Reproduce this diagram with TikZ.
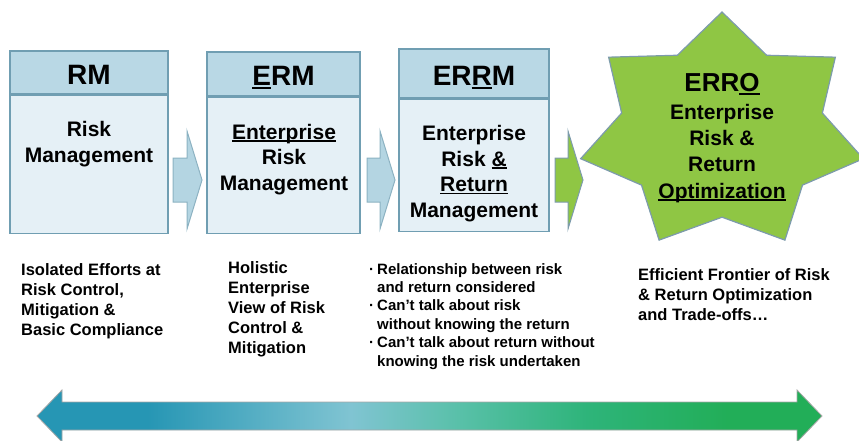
\documentclass[tikz,border=0pt]{standalone}
\usepackage{fontspec}
\setmainfont{Liberation Sans}
\usetikzlibrary{positioning}
\definecolor{hdrblue}{RGB}{185,216,229}
\definecolor{bodyblue}{RGB}{229,240,246}
\definecolor{boxline}{RGB}{112,158,178}
\definecolor{arrowblue}{RGB}{180,213,226}
\definecolor{arrowline}{RGB}{140,178,194}
\definecolor{leafgreen}{RGB}{143,198,68}
\definecolor{starline}{RGB}{125,155,172}
\definecolor{tealdark}{RGB}{38,150,180}
\definecolor{tealpale}{RGB}{128,196,210}
\definecolor{tealgreen}{RGB}{88,192,168}
\definecolor{midgreen}{RGB}{46,180,122}
\definecolor{deepgreen}{RGB}{34,174,88}
\pgfdeclarehorizontalshading{riskreturn}{100bp}{color(0bp)=(tealdark); color(32bp)=(tealdark); color(45bp)=(tealpale); color(52bp)=(tealgreen); color(60bp)=(midgreen); color(69bp)=(deepgreen); color(100bp)=(deepgreen)}
\newsavebox{\ulbox}
\newcommand{\uln}[1]{\sbox{\ulbox}{#1}\rlap{\rule[-0.12em]{\wd\ulbox}{0.07em}}\usebox{\ulbox}}

\begin{document}
\begin{tikzpicture}[x=1pt,y=-1pt,
  hdr/.style={draw=boxline, fill=hdrblue, line width=1.2pt, inner sep=2pt,
    text height=23.5pt, text depth=0pt, font=\bfseries\fontsize{28}{30}\selectfont},
  bodybox/.style={draw=boxline, fill=bodyblue, line width=1.2pt},
  bodytext/.style={align=center, anchor=base, inner sep=0pt,
    font=\bfseries\fontsize{21}{25.5}\selectfont},
  steparrow/.style={draw=arrowline, fill=arrowblue, line width=1pt},
  greenarrow/.style={draw=starline, fill=leafgreen, line width=1pt},
  starshape/.style={draw=starline, fill=leafgreen, line width=1.2pt},
  note/.style={align=left, anchor=base west, inner sep=0pt,
    font=\bfseries\fontsize{16.5}{20}\selectfont},
  bullets/.style={align=left, anchor=base west, inner sep=0pt,
    font=\bfseries\fontsize{15}{18.4}\selectfont}]
  \useasboundingbox (0,0) rectangle (859,441);

  % stage boxes (text nodes sit on their last baseline)
  \node[hdr, minimum width=158, minimum height=43] (rmH) at (89,72.5) {RM};
  \node[bodybox, minimum width=158, minimum height=138, below=0pt of rmH] (rmB) {};
  \node[bodytext] (rmT) at (89,162) {Risk\\Management};

  \node[hdr, minimum width=153, minimum height=44] (ermH) at (283.5,74) {\uln{E}RM};
  \node[bodybox, minimum width=153, minimum height=136, below=0pt of ermH] (ermB) {};
  \node[bodytext] (ermT) at (284,190) {\uln{Enterprise}\\Risk\\Management};

  \node[hdr, minimum width=150, minimum height=49] (errmH) at (474,73.5) {ER\uln{R}M};
  \node[bodybox, minimum width=150, minimum height=132, below=0pt of errmH] (errmB) {};
  \node[bodytext] (errmT) at (474,217) {Enterprise\\Risk \uln{\&}\\\uln{Return}\\Management};

  % block arrows
  \coordinate (a1) at (173,180);
  \coordinate (a2) at (367,180);
  \coordinate (a3) at (555,180);
  \draw[steparrow] (a1) ++(0,-22) -- ++(14,0) -- ++(0,-27) -- ++(15,49)
    -- ++(-15,49) -- ++(0,-27) -- ++(-14,0) -- cycle;
  \draw[steparrow] (a2) ++(0,-22) -- ++(13,0) -- ++(0,-27) -- ++(15,49)
    -- ++(-15,49) -- ++(0,-27) -- ++(-13,0) -- cycle;
  \draw[greenarrow] (a3) ++(0,-22) -- ++(13,0) -- ++(0,-27) -- ++(15,49)
    -- ++(-15,49) -- ++(0,-27) -- ++(-13,0) -- cycle;

  % ERRO star
  \begin{scope}[shift={(722,132)}]
    \coordinate (erroC) at (0,0);
    \draw[starshape] (-90:145 and 120)
      \foreach \i [evaluate=\i as \rr using {mod(\i,2)==0 ? 1 : 0.71}] in {1,...,13}
        { -- ({-90+\i*360/14}:{145*\rr} and {120*\rr}) } -- cycle;
  \end{scope}
  \node[bodytext, font=\bfseries\fontsize{26}{28}\selectfont] (erroH) at (722,92) {ERR\uln{O}};
  \node[bodytext, font=\bfseries\fontsize{21}{26.3}\selectfont] (erroT) at (722,198)
    {Enterprise\\Risk \&\\Return\\\uln{Optimization}};

  % notes
  \node[note] (isoN) at (21,335) {Isolated Efforts at\\Risk Control,\\Mitigation \&\\Basic Compliance};
  \node[note] (holN) at (228,353) {Holistic\\Enterprise\\View of Risk\\Control \&\\Mitigation};
  \node[bullets] (relN) at (377,366) {\llap{·\hspace{3pt}}Relationship between risk\\and return considered\\
    \llap{·\hspace{3pt}}Can’t talk about risk\\without knowing the return\\
    \llap{·\hspace{3pt}}Can’t talk about return without\\knowing the risk undertaken};
  \node[note] (effN) at (638,320) {Efficient Frontier of Risk\\\& Return Optimization\\and Trade-offs…};

  % risk-return spectrum
  \coordinate (lt) at (37,416);
  \coordinate (rt) at (822,416);
  \shadedraw[shading=riskreturn, draw=gray!70, line width=0.8pt]
    (lt) -- ([shift={(25,-26)}]lt) -- ([shift={(25,-14)}]lt) -- ([shift={(-25,-14)}]rt)
    -- ([shift={(-25,-26)}]rt) -- (rt) -- ([shift={(-25,26)}]rt) -- ([shift={(-25,14)}]rt)
    -- ([shift={(25,14)}]lt) -- ([shift={(25,26)}]lt) -- cycle;
\end{tikzpicture}
\end{document}
